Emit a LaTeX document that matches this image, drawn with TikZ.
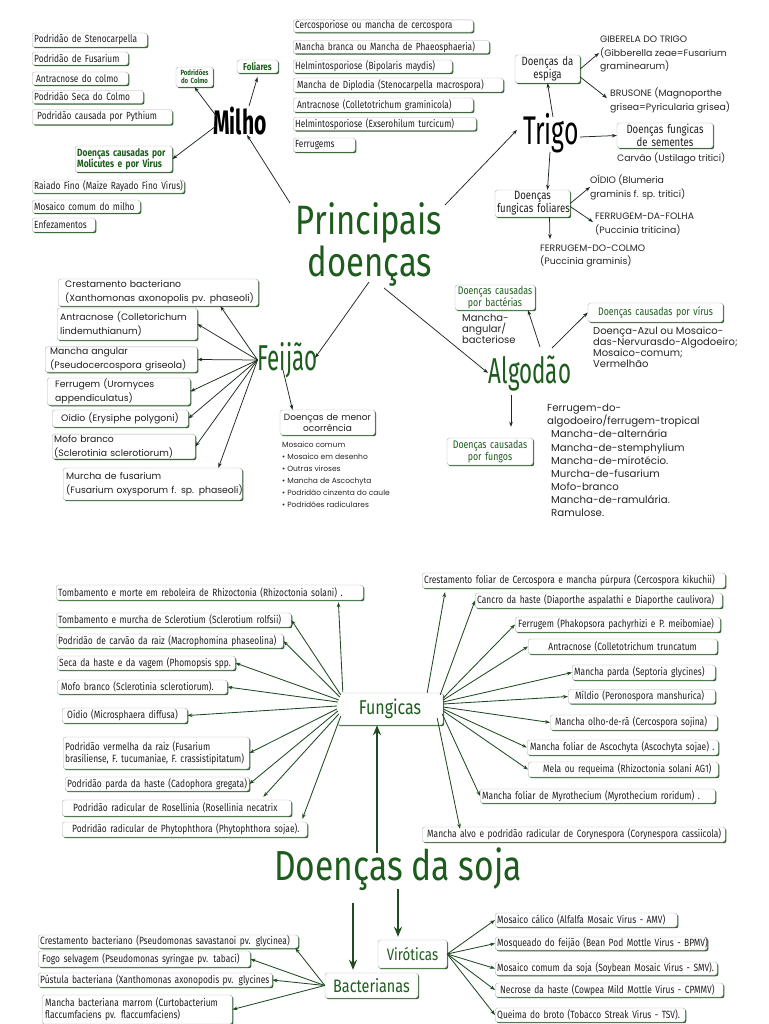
\documentclass[tikz,border=0pt]{standalone}
\usepackage{fontspec}
\setmainfont{Poppins}
\newfontfamily\cnd[FakeStretch=0.8]{Fira Sans}
\newfontfamily\ttl[FakeStretch=0.62]{Fira Sans}
\usetikzlibrary{arrows.meta,shadows}
\definecolor{tg}{HTML}{1D5C1D}
\definecolor{shd}{HTML}{2C5E2C}
\definecolor{arr}{HTML}{1D2B1D}
\definecolor{sarr}{HTML}{1F4A22}
\newcommand\fs[2]{\fontsize{#1}{#2}\selectfont}
\newcommand\mb[1]{\mbox{#1}}
\tikzset{
 bx/.style={draw=black!30, line width=0.4pt, fill=white, rounded corners=2.5pt,
   general shadow={fill=shd, shadow xshift=1.2pt, shadow yshift=-1.2pt},
   inner xsep=2pt, inner ysep=1pt, text=black!88},
 lb/.style={bx, anchor=west, align=left, text width=#1},
 cb/.style={bx, align=center, text width=#1},
 ml/.style={font=\cnd\fs{10.4}{12}},
 sl/.style={font=\cnd\fs{10.5}{12}},
 fj/.style={font=\fs{9.3}{14}},
 gb/.style={font=\cnd\fs{11}{10}, text=tg},
 tx/.style={anchor=north west, inner sep=0pt, align=left, text=black!85},
 ar/.style={-{Stealth[length=5pt,width=3.6pt]}, line width=0.75pt, draw=arr},
 sar/.style={-{Stealth[length=5pt,width=3.6pt]}, line width=0.85pt, draw=sarr},
 bar/.style={-{Stealth[length=10pt,width=8pt]}, line width=2.3pt, draw=sarr},
}
\begin{document}
\begin{tikzpicture}[x=1pt,y=-1pt]
\useasboundingbox (0,0) rectangle (768,1024);
\fill[white] (0,0) rectangle (768,1024);

% ---------- central title ----------
\node[anchor=base, inner sep=0pt, font=\cnd\fs{41}{41}, text=tg] (princ) at (369,235) {Principais};
\node[anchor=base, inner sep=0pt, font=\cnd\fs{41}{41}, text=tg] (princ2) at (370,276) {doenças};

% ---------- Milho ----------
\node[anchor=base, inner sep=0pt, font=\ttl\bfseries\fs{34}{34}] (milho) at (240,135) {Milho};
\node[lb=111pt, ml, minimum height=14] (m1) at (32,40) {\mb{Podridão de Stenocarpella}};
\node[lb=92pt, ml, minimum height=13] (m2) at (32,58.5) {\mb{Podridão de Fusarium}};
\node[lb=92pt, ml, minimum height=13] (m3) at (32,78.5) {\mb{\hspace{2pt}Antracnose do colmo}};
\node[lb=107pt, ml, minimum height=13] (m4) at (32,97) {\mb{Podridão Seca do Colmo}};
\node[lb=136pt, ml, minimum height=15] (m5) at (32,117) {\mb{\hspace{3pt}Podridão causada por Pythium}};
\node[lb=93pt, font=\cnd\bfseries\fs{10.5}{11.5}, text=tg, minimum height=26] (molic) at (75,159) {\mb{Doenças causadas por}\\\mb{Molicutes e por Virus}};
\node[lb=148pt, ml, minimum height=13] (r1) at (32,186.5) {\mb{Raiado Fino (Maize Rayado Fino Virus)}};
\node[lb=104pt, ml, minimum height=13] (r2) at (32,206.5) {\mb{Mosaico comum do milho}};
\node[lb=59pt, ml, minimum height=14] (r3) at (32,225) {\mb{Enfezamentos}};
\node[cb=33pt, font=\cnd\bfseries\fs{7.5}{8}, text=tg, minimum height=20] (pcol) at (194.5,77) {Podridões\\do Colmo};
\node[cb=37pt, font=\cnd\bfseries\fs{10}{11}, text=tg, minimum height=13] (fol) at (257.5,66.5) {Foliares};

\node[lb=176pt, ml, minimum height=12] (f1) at (293,26) {\mb{Cercosporiose ou mancha de cercospora}};
\node[lb=192pt, ml, minimum height=12] (f2) at (293,47) {\mb{Mancha branca ou Mancha de Phaeosphaeria)}};
\node[lb=155pt, ml, minimum height=13] (f3) at (293,66.5) {\mb{Helmintosporiose (Bipolaris maydis)}};
\node[lb=206pt, ml, minimum height=14] (f4) at (293,85) {\mb{\hspace{2pt}Mancha de Diplodia (Stenocarpella macrospora)}};
\node[lb=176pt, ml, minimum height=14] (f5) at (293,105) {\mb{\hspace{2pt}Antracnose (Colletotrichum graminicola)}};
\node[lb=179pt, ml, minimum height=12] (f6) at (293,124) {\mb{Helmintosporiose (Exserohilum turcicum)}};
\node[lb=58pt, ml, minimum height=14] (f7) at (293,145) {\mb{Ferrugems}};

\draw[ar] ([shift={(-79,-32)}]princ.base) -- ([xshift=7pt]milho.base);
\draw[ar] ([shift={(-23,-18)}]milho.base) -- (pcol.south);
\draw[ar] ([shift={(9,-29)}]milho.base) -- ([yshift=-4pt]fol.south);
\draw[ar] ([shift={(-24,-9)}]milho.base) -- (molic.east);

% ---------- Trigo ----------
\node[anchor=base, inner sep=0pt, font=\ttl\fs{40}{40}] (trigo) at (551,145) {Trigo};
\node[cb=61pt, font=\cnd\fs{12}{11.5}, minimum height=28] (esp) at (547.5,69) {\mb{Doenças da}\\\mb{espiga}};
\node[tx, font=\fs{9.3}{13.3}] (giber) at (600,36) {GIBERELA DO TRIGO\\(Gibberella zeae=Fusarium\\graminearum)};
\node[tx, font=\fs{9.3}{13.3}] (brus) at (610,88) {BRUSONE (Magnoporthe\\grisea=Pyricularia grisea)};
\node[cb=92pt, font=\cnd\fs{12}{11.5}, minimum height=25] (sem) at (665,135.5) {\mb{Doenças fungicas}\\\mb{de sementes}};
\node[anchor=west, inner sep=0pt, font=\fs{9.3}{12}, text=black!85] (carv) at (617,158.5) {Carvão (Ustilago tritici)};
\node[cb=71pt, font=\cnd\fs{12}{11.5}, minimum height=27] (ffol) at (532.5,203.5) {\mb{Doenças}\\\mb{fungicas foliares}};
\node[tx, font=\fs{9.3}{13.5}] (oidio) at (590,175) {OÍDIO (Blumeria\\graminis f. sp. tritici)};
\node[tx, font=\fs{9.3}{14}] (ffolha) at (595,213) {FERRUGEM-DA-FOLHA\\(Puccinia triticina)};
\node[tx, font=\fs{9.3}{13}] (fcolmo) at (540,245) {FERRUGEM-DO-COLMO\\(Puccinia graminis)};

\draw[ar] ([shift={(76,-30)}]princ.base) -- ([shift={(-34,-15)}]trigo.base);
\draw[ar] ([shift={(2,-28)}]trigo.base) -- (esp.south);
\draw[ar] (esp.east) -- ([shift={(-1,17)}]giber.north west);
\draw[ar] ([yshift=-8pt]esp.east) -- ([shift={(-3,10)}]brus.north west);
\draw[ar] ([shift={(29,-8)}]trigo.base) -- (sem.west);
\draw[ar] ([shift={(-1,7)}]trigo.base) -- ([xshift=15pt]ffol.north);
\draw[ar] (ffol.east) -- ([shift={(0,12)}]oidio.north west);
\draw[ar] ([yshift=-3pt]ffol.east) -- ([shift={(-2,9)}]ffolha.north west);
\draw[ar] ([xshift=17pt]ffol.south) -- ([shift={(10,-6)}]fcolmo.north west);

% ---------- Feijao ----------
\node[anchor=base, inner sep=0pt, font=\ttl\fs{36}{36}, text=tg] (feijao) at (287.5,370) {Feijão};
\node[lb=186pt, fj, inner xsep=7pt, minimum height=27] (fe1) at (58,292.5) {\mb{Crestamento bacteriano}\\\mb{(Xanthomonas axonopolis pv. phaseoli)}};
\node[lb=134pt, fj, inner xsep=3pt, minimum height=32] (fe2) at (57,324) {\mb{Antracnose (Colletorichum}\\\mb{lindemuthianum)}};
\node[lb=142pt, fj, inner xsep=5pt, minimum height=25] (fe3) at (45,359.5) {\mb{Mancha angular}\\\mb{(Pseudocercospora griseola)}};
\node[lb=127pt, fj, inner xsep=8pt, minimum height=23] (fe4) at (47,391.5) {\mb{Ferrugem (Uromyces}\\\mb{appendiculatus)}};
\node[lb=118pt, fj, inner xsep=9pt, minimum height=17] (fe5) at (52,418.5) {\mb{Oídio (Erysiphe polygoni)}};
\node[lb=139pt, fj, inner xsep=2pt, minimum height=23] (fe6) at (52,446.5) {\mb{Mofo branco}\\\mb{(Sclerotinia sclerotiorum)}};
\node[lb=173pt, fj, inner xsep=3pt, minimum height=32] (fe7) at (63,484) {\mb{Murcha de fusarium}\\\mb{(Fusarium oxysporum f. sp. phaseoli)}};
\node[cb=91pt, font=\fs{9}{10.5}, minimum height=25] (menor) at (327.5,422.5) {Doenças de menor\\ocorrência};
\node[tx, font=\fs{7.5}{12}] (mlist) at (282,442) {Mosaico comum\\• Mosaico em desenho\\• Outras viroses\\• Mancha de Ascochyta\\• Podridão cinzenta do caule\\• Podridões radiculares};

\draw[ar] ([shift={(-1,6)}]princ2.base) -- ([shift={(27.5,-12)}]feijao.base);
\draw[ar] ([shift={(-30,-10)}]feijao.base) -- ([xshift=-38pt]fe1.south east);
\draw[ar] ([shift={(-30,-10)}]feijao.base) -- (fe2.east);
\draw[ar] ([shift={(-30,-10)}]feijao.base) -- (fe3.east);
\draw[ar] ([shift={(-30,-10)}]feijao.base) -- (fe4.east);
\draw[ar] ([shift={(-30,-10)}]feijao.base) -- (fe5.east);
\draw[ar] ([shift={(-30,-10)}]feijao.base) -- (fe6.east);
\draw[ar] ([shift={(-30,-10)}]feijao.base) -- ([xshift=-24pt]fe7.north east);
\draw[ar] ([shift={(-4.5,0)}]feijao.base) -- ([xshift=-35pt]menor.north);

% ---------- Algodao ----------
\node[anchor=base, inner sep=0pt, font=\ttl\fs{36}{36}, text=tg] (algodao) at (530,383) {Algodão};
\node[cb=76pt, gb, minimum height=25] (bact) at (495,297.5) {Doenças causadas\\por bactérias};
\node[tx, font=\fs{10}{11}] (manch) at (462,314) {Mancha-\\angular/\\bacteriose};
\node[cb=131pt, gb, minimum height=19] (virus) at (655.5,312.5) {Doenças causadas por vírus};
\node[tx, font=\fs{10}{10.8}] (vtext) at (593,327) {Doença-Azul ou Mosaico-\\das-Nervurasdo-Algodoeiro;\\Mosaico-comum;\\Vermelhão};
\node[cb=82pt, gb, minimum height=27] (fungos) at (490,451.5) {Doenças causadas\\por fungos};
\node[tx, font=\fs{10.2}{13.1}] (flist) at (547,404) {Ferrugem-do-\\algodoeiro/ferrugem-tropical\\\hspace*{4pt}Mancha-de-alternária\\\hspace*{4pt}Mancha-de-stemphylium\\\hspace*{4pt}Mancha-de-mirotécio.\\\hspace*{4pt}Murcha-de-fusarium\\\hspace*{4pt}Mofo-branco\\\hspace*{4pt}Mancha-de-ramulária.\\\hspace*{4pt}Ramulose.};

\draw[ar] ([shift={(14,12)}]princ2.base) -- ([shift={(-42,-10)}]algodao.base);
\draw[ar] ([shift={(10,-36)}]algodao.base) -- ([xshift=33pt]bact.south);
\draw[ar] ([shift={(22,-35)}]algodao.base) -- (virus.west);
\draw[ar] ([shift={(-19,12)}]algodao.base) -- ([shift={(21,-11)}]fungos.north);

% ---------- Soja ----------
\node[cb=102pt, font=\cnd\fs{20}{20}, text=tg, minimum height=32] (fung) at (390,709) {Fungicas};

\node[lb=303pt, sl, minimum height=15] (s1) at (56,592.5) {\mb{Tombamento e morte em reboleira de Rhizoctonia (Rhizoctonia solani) .}};
\node[lb=231pt, sl, minimum height=14] (s2) at (56,620) {\mb{Tombamento e murcha de Sclerotium (Sclerotium rolfsii)}};
\node[lb=223pt, sl, minimum height=14] (s3) at (56,641) {\mb{Podridão de carvão da raiz (Macrophomina phaseolina)}};
\node[lb=174pt, sl, minimum height=14] (s4) at (57,663) {\mb{Seca da haste e da vagem (Phomopsis spp.}};
\node[lb=166pt, sl, minimum height=14] (s5) at (57,687) {\mb{\hspace{2pt}Mofo branco (Sclerotinia sclerotiorum).}};
\node[lb=121pt, sl, minimum height=15] (s6) at (62,715.5) {\mb{\hspace{3pt}Oídio (Microsphaera diffusa)}};
\node[lb=182pt, sl, minimum height=32] (s7) at (63,753) {\mb{Podridão vermelha da raiz (Fusarium}\\\mb{brasiliense, F. tucumaniae, F. crassistipitatum)}};
\node[lb=180pt, sl, minimum height=14] (s8) at (65,784) {\mb{Podridão parda da haste (Cadophora gregata)}};
\node[lb=225pt, sl, minimum height=16] (s9) at (62,808) {\mb{\hspace{9pt}Podridão radicular de Rosellinia (Rosellinia necatrix}};
\node[lb=241pt, sl, minimum height=15] (s10) at (62,829.5) {\mb{\hspace{8pt}Podridão radicular de Phytophthora (Phytophthora sojae).}};

\node[lb=299pt, sl, minimum height=15] (t1) at (422,580.5) {\mb{Crestamento foliar de Cercospora e mancha púrpura (Cercospora kikuchii)}};
\node[lb=243pt, sl, minimum height=15] (t2) at (475,600.5) {\mb{Cancro da haste (Diaporthe aspalathi e Diaporthe caulivora)}};
\node[lb=201pt, sl, minimum height=15] (t3) at (515,624.5) {\mb{\hspace{1pt}Ferrugem (Phakopsora pachyrhizi e P. meibomiae)}};
\node[lb=185pt, sl, align=center, minimum height=15] (t4) at (528,646.5) {\mb{Antracnose (Colletotrichum truncatum}};
\node[lb=139pt, sl, minimum height=15] (t5) at (572,672.5) {\mb{Mancha parda (Septoria glycines)}};
\node[lb=143pt, sl, minimum height=14] (t6) at (568,696.5) {\mb{\hspace{5pt}Míldio (Peronospora manshurica)}};
\node[lb=163pt, sl, minimum height=15] (t7) at (550,722.5) {\mb{\hspace{3pt}Mancha olho-de-rã (Cercospora sojina)}};
\node[lb=187pt, sl, minimum height=15] (t8) at (527,747.5) {\mb{\hspace{1pt}Mancha foliar de Ascochyta (Ascochyta sojae) .}};
\node[lb=186pt, sl, minimum height=15] (t9) at (528,769.5) {\mb{\hspace{13pt}Mela ou requeima (Rhizoctonia solani AG1)}};
\node[lb=231pt, sl, minimum height=14] (t10) at (480,796) {\mb{Mancha foliar de Myrothecium (Myrothecium roridum) .}};
\node[lb=299pt, sl, minimum height=15] (t11) at (422,834.5) {\mb{\hspace{3pt}Mancha alvo e podridão radicular de Corynespora (Corynespora cassiicola)}};

\draw[sar] ([shift={(6,-17)}]fung.west) -- ([shift={(-25,2)}]s1.south east);
\draw[sar] ([shift={(4,-14)}]fung.west) -- (s2.east);
\draw[sar] ([shift={(3,-12)}]fung.west) -- (s3.east);
\draw[sar] ([shift={(2,-9)}]fung.west) -- (s4.east);
\draw[sar] ([shift={(1,-7)}]fung.west) -- (s5.east);
\draw[sar] ([shift={(0,-3)}]fung.west) -- (s6.east);
\draw[sar] (fung.west) -- (s7.east);
\draw[sar] ([shift={(1,2)}]fung.west) -- (s8.east);
\draw[sar] ([shift={(2,5)}]fung.west) -- ([shift={(-28,-3)}]s9.north east);
\draw[sar] ([shift={(4,7)}]fung.west) -- ([shift={(-5,-3)}]s10.north east);

\draw[sar] ([shift={(-16,0)}]fung.north east) -- ([shift={(23,4)}]t1.south west);
\draw[sar] ([shift={(-3,2)}]fung.north east) -- (t2.west);
\draw[sar] ([shift={(0,-11)}]fung.east) -- (t3.west);
\draw[sar] ([shift={(0,-9)}]fung.east) -- (t4.west);
\draw[sar] ([shift={(0,-7)}]fung.east) -- (t5.west);
\draw[sar] ([shift={(0,-5)}]fung.east) -- (t6.west);
\draw[sar] ([shift={(0,-2)}]fung.east) -- (t7.west);
\draw[sar] (fung.east) -- (t8.west);
\draw[sar] ([shift={(0,2)}]fung.east) -- (t9.west);
\draw[sar] ([shift={(-1,5)}]fung.east) -- (t10.west);
\draw[sar] ([shift={(-6,-7)}]fung.south east) -- ([shift={(38,2)}]t11.north west);

\node[anchor=base, inner sep=0pt, font=\cnd\fs{42}{42}, text=tg] (soja) at (398,880) {Doenças da soja};

\node[cb=65pt, font=\cnd\fs{16.5}{16.5}, text=tg, minimum height=28] (vir) at (412.5,954) {Viróticas};
\node[cb=89pt, font=\cnd\fs{18}{18}, text=tg, minimum height=25] (bac) at (371.5,985.5) {Bacterianas};

\draw[bar] ([shift={(-21,-27)}]soja.base) -- ([xshift=-13pt]fung.south);
\draw[bar] ([shift={(0,9)}]soja.base) -- ([shift={(-14.5,-3)}]vir.north);
\draw[bar] ([shift={(-45,23)}]soja.base) -- ([shift={(-18.5,-3)}]bac.north);

\node[lb=256pt, sl, minimum height=13] (b1) at (38,941.5) {\mb{Crestamento bacteriano (Pseudomonas savastanoi pv. glycinea)}};
\node[lb=208pt, sl, minimum height=16] (b2) at (38,959) {\mb{\hspace{2pt}Fogo selvagem (Pseudomonas syringae pv. tabaci)}};
\node[lb=230pt, sl, minimum height=14] (b3) at (38,980) {\mb{Pústula bacteriana (Xanthomonas axonopodis pv. glycines}};
\node[lb=186pt, sl, minimum height=29] (b4) at (42,1009.5) {\mb{\hspace{1pt}Mancha bacteriana marrom (Curtobacterium}\\\mb{\hspace{1pt}flaccumfaciens pv. flaccumfaciens)}};

\node[lb=178pt, sl, minimum height=14] (v1) at (495,920) {\mb{Mosaico cálico (Alfalfa Mosaic Virus - AMV)}};
\node[lb=208pt, sl, minimum height=13] (v2) at (495,943.5) {\mb{Mosqueado do feijão (Bean Pod Mottle Virus - BPMV)}};
\node[lb=218pt, sl, minimum height=13] (v3) at (495,968.5) {\mb{Mosaico comum da soja (Soybean Mosaic Virus - SMV).}};
\node[lb=224pt, sl, minimum height=14] (v4) at (495,990) {\mb{\hspace{3pt}Necrose da haste (Cowpea Mild Mottle Virus - CPMMV)}};
\node[lb=186pt, sl, minimum height=14] (v5) at (495,1015) {\mb{Queima do broto (Tobacco Streak Virus - TSV).}};

\draw[sar] (bac.west) -- ([xshift=-3pt]b1.south east);
\draw[sar] (bac.west) -- (b2.east);
\draw[sar] (bac.west) -- (b3.east);
\draw[sar] (bac.west) -- (b4.east);
\draw[sar] (vir.east) -- (v1.west);
\draw[sar] (vir.east) -- (v2.west);
\draw[sar] (vir.east) -- (v3.west);
\draw[sar] (vir.east) -- (v4.west);
\draw[sar] (vir.east) -- (v5.west);
\end{tikzpicture}
\end{document}
